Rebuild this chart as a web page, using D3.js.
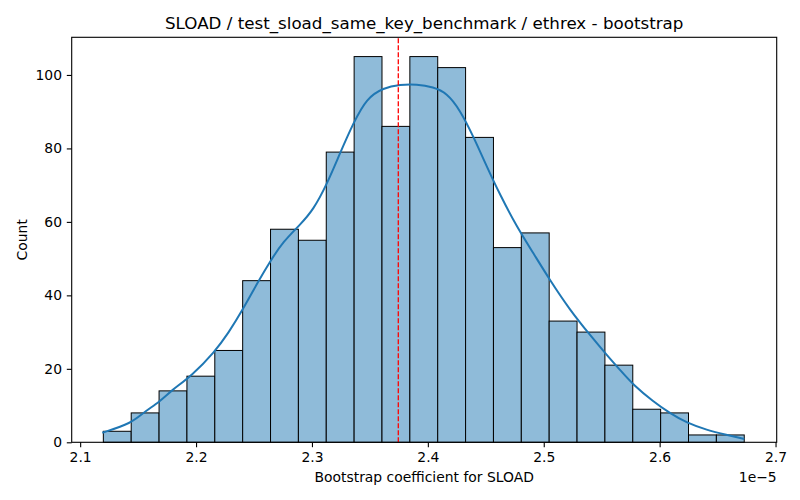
<!DOCTYPE html>
<html>
<head>
<meta charset="utf-8">
<script src="https://cdn.jsdelivr.net/npm/d3@7"></script>
<style>
  body { margin: 0; background: #fff; }
  svg { font-family: "DejaVu Sans", sans-serif; }
</style>
</head>
<body>
<svg id="chart" width="800" height="500"></svg>
<script>
const svg = d3.select("#chart");
const width = 800;
const height = 500;

const margin = {
    "T": 37.3,
    "B": 57.7,
    "R": 23.3,
    "L": 71.7,
};

// ---- DATA (x in units of 1e-5) ---- //
const binStart = 2.1200;
const binWidth = 0.024043;
const counts = [3, 8, 14, 18, 25, 44, 58, 55, 79, 105, 86, 105, 102, 83, 53, 57, 33, 30, 21, 9, 8, 2, 2];
const meanValue = 2.3745;

// KDE curve (already scaled to counts)
const kdeX = [2.1191, 2.1445, 2.1545, 2.1689, 2.1790, 2.1962, 2.2163, 2.2278, 2.2394, 2.2537,
              2.2638, 2.2753, 2.2897, 2.3012, 2.3127, 2.3242, 2.3357, 2.3472, 2.3616, 2.3760,
              2.3904, 2.4047, 2.4163, 2.4277, 2.4392, 2.4508, 2.4622, 2.4767, 2.4910, 2.5048,
              2.5226, 2.5399, 2.5543, 2.5658, 2.5773, 2.5945, 2.6089, 2.6233, 2.6406, 2.6578,
              2.6730];
const kdeY = [2.6, 5.2, 8.1, 11.1, 14.2, 18.1, 24.7, 29.7, 35.6, 43.8,
              49.2, 54.7, 59.2, 63.3, 70.1, 78.7, 86.9, 93.7, 96.5, 97.4,
              97.5, 96.7, 95.1, 90.5, 83.3, 75.1, 67.4, 58.7, 51.5, 44.4,
              36.0, 29.2, 23.8, 19.7, 15.6, 11.1, 7.9, 5.3, 3.35, 2.0,
              0.9];

const xTicks = [2.1, 2.2, 2.3, 2.4, 2.5, 2.6, 2.7];
const yTicks = [0, 20, 40, 60, 80, 100];

const bins = counts.map((c, i) => ({
    "x0": binStart + i * binWidth,
    "x1": binStart + (i + 1) * binWidth,
    "count": c
}));
const kde = kdeX.map((x, i) => ({ "x": x, "y": kdeY[i] }));

// ---- SCALES ---- //
const xScale = d3.scaleLinear()
    .domain([2.0927, 2.7010])
    .range([margin.L, width - margin.R]);
const yScale = d3.scaleLinear()
    .domain([0, 110.25])
    .range([height - margin.B, margin.T]);

// ---- BARS ---- //
svg.append("g")
    .selectAll("rect")
    .data(bins)
    .enter()
    .append("rect")
        .attr("x", d => xScale(d.x0))
        .attr("y", d => yScale(d.count))
        .attr("width", d => xScale(d.x1) - xScale(d.x0))
        .attr("height", d => yScale(0) - yScale(d.count))
        .attr("fill", "#8fbbd9")
        .attr("stroke", "#000")
        .attr("stroke-width", 1);

// ---- KDE ---- //
const line = d3.line()
    .x(d => xScale(d.x))
    .y(d => yScale(d.y))
    .curve(d3.curveBasis);

svg.append("path")
    .attr("d", line(kde))
    .attr("fill", "none")
    .attr("stroke", "#1f77b4")
    .attr("stroke-width", 2);

// ---- MEAN ---- //
svg.append("line")
    .attr("x1", xScale(meanValue))
    .attr("x2", xScale(meanValue))
    .attr("y1", yScale(0))
    .attr("y2", margin.T)
    .attr("stroke", "red")
    .attr("stroke-width", 1.3)
    .attr("stroke-dasharray", "5,2");

// ---- AXES ---- //
const xAxis = d3.axisBottom(xScale)
    .tickValues(xTicks)
    .tickFormat(d3.format(".1f"))
    .tickSizeOuter(0)
    .tickSize(4.9)
    .tickPadding(4.8);
const yAxis = d3.axisLeft(yScale)
    .tickValues(yTicks)
    .tickSizeOuter(0)
    .tickSize(4.9)
    .tickPadding(4.8);

const gx = svg.append("g")
    .attr("transform", `translate(0, ${height - margin.B})`)
    .call(xAxis);
const gy = svg.append("g")
    .attr("transform", `translate(${margin.L}, 0)`)
    .call(yAxis);

[gx, gy].forEach(g => {
    g.select(".domain").remove();
    g.selectAll("line").attr("stroke", "#000").attr("stroke-width", 1.1);
    g.selectAll("text").attr("fill", "#000").style("font-size", "13.9px").style("font-family", "DejaVu Sans");
});

// frame
svg.append("rect")
    .attr("x", margin.L)
    .attr("y", margin.T)
    .attr("width", width - margin.R - margin.L)
    .attr("height", height - margin.B - margin.T)
    .attr("fill", "none")
    .attr("stroke", "#000")
    .attr("stroke-width", 1.1);

// ---- TEXT ---- //
const cx = (margin.L + width - margin.R) / 2;

svg.append("text")
    .attr("x", cx)
    .attr("y", 29)
    .attr("text-anchor", "middle")
    .style("font-size", "16.7px")
    .text("SLOAD / test_sload_same_key_benchmark / ethrex - bootstrap");

svg.append("text")
    .attr("x", cx)
    .attr("y", 482)
    .attr("text-anchor", "middle")
    .style("font-size", "13.9px")
    .text("Bootstrap coefficient for SLOAD");

svg.append("text")
    .attr("x", width - margin.R)
    .attr("y", 482)
    .attr("text-anchor", "end")
    .style("font-size", "13.9px")
    .text("1e\u22125");

svg.append("text")
    .attr("transform", `translate(27, ${(margin.T + height - margin.B) / 2}) rotate(-90)`)
    .attr("text-anchor", "middle")
    .style("font-size", "13.9px")
    .text("Count");
</script>
</body>
</html>
